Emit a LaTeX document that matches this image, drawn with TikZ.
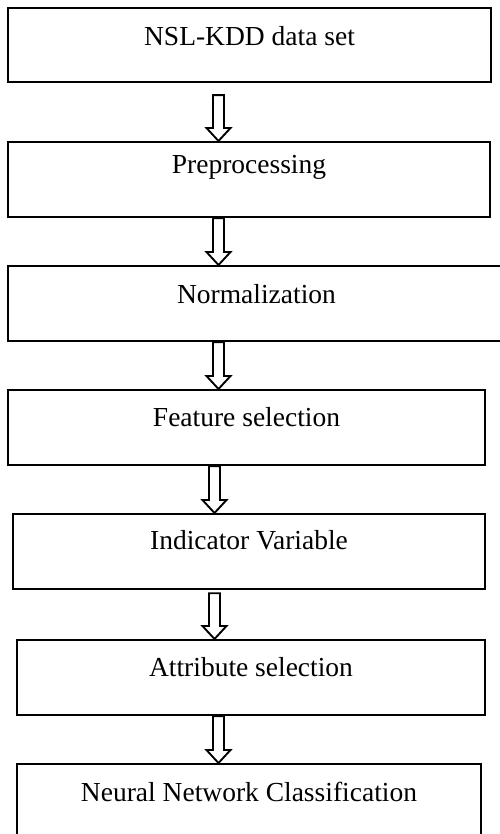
\documentclass[tikz,border=0pt]{standalone}
\usepackage{fontspec}
\setmainfont{Liberation Serif}
\usetikzlibrary{positioning,calc}

\begin{document}
\begin{tikzpicture}[
    x=1pt, y=-1pt,
    every node/.style={font=\fontsize{27.5}{30}\selectfont},
    stepbox/.style={rectangle, draw=black, line width=2.2pt, inner sep=0pt, anchor=north, align=center},
    % hollow block arrow from start point down to target point
    flowarrow/.style={draw=black, line width=1.9pt, fill=white, line join=miter,
        to path={let \p1=(\tikztostart), \p2=(\tikztotarget) in
            (\x1-5.5pt,\y1) -- (\x1-5.5pt,\y2+13pt) -- (\x1-12pt,\y2+13pt) -- (\x1,\y2)
            -- (\x1+12pt,\y2+13pt) -- (\x1+5.5pt,\y2+13pt) -- (\x1+5.5pt,\y1) -- cycle}}
]

\useasboundingbox[fill=white] (0,0) rectangle (499,834);

% Processing steps
\node[stepbox, minimum width=483pt, text height=37pt, text depth=37pt] (dataset) at (249.5,7) {NSL-KDD data set};
\node[stepbox, minimum width=482pt, text height=31pt, text depth=44pt] (preproc) at (249,141) {Preprocessing};
\node[stepbox, minimum width=497pt, text height=37pt, text depth=38pt] (norm) at (256.5,265) {Normalization};
\node[stepbox, minimum width=477pt, text height=36pt, text depth=39pt] (featsel) at (246.5,389) {Feature selection};
\node[stepbox, minimum width=472pt, text height=35pt, text depth=40pt] (indvar) at (249,513) {Indicator Variable};
\node[stepbox, minimum width=468pt, text height=36pt, text depth=39pt] (attrsel) at (251,639) {Attribute selection};
\node[stepbox, minimum width=464pt, text height=37pt, text depth=45pt] (nnclass) at (249,763) {Neural Network Classification};

% Arrow axes
\coordinate (axisA) at (218.5,0);
\coordinate (axisB) at (214.5,0);

% Arrows between steps
\draw[flowarrow] ($(dataset.south -| axisA)+(0,12)$) to (preproc.north -| axisA);
\draw[flowarrow] (preproc.south -| axisA) to (norm.north -| axisA);
\draw[flowarrow] (norm.south -| axisA) to (featsel.north -| axisA);
\draw[flowarrow] (featsel.south -| axisB) to (indvar.north -| axisB);
\draw[flowarrow] ($(indvar.south -| axisB)+(0,3)$) to (attrsel.north -| axisB);
\draw[flowarrow] (attrsel.south -| axisA) to (nnclass.north -| axisA);

\end{tikzpicture}
\end{document}
